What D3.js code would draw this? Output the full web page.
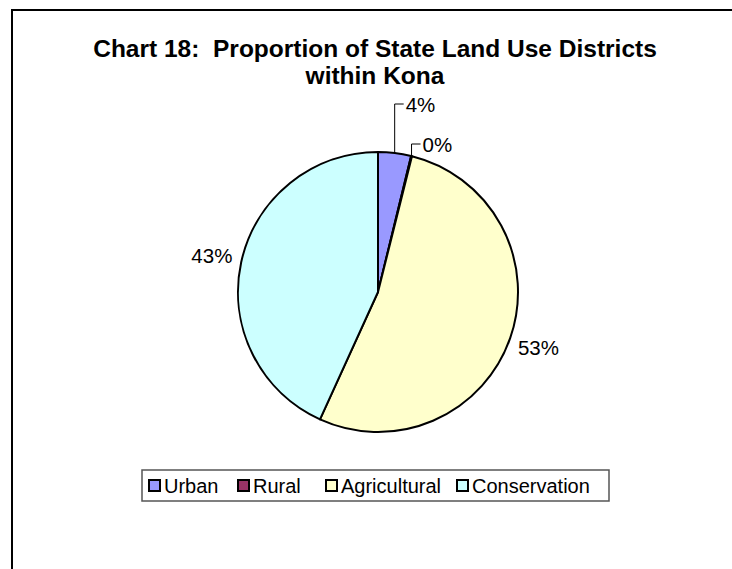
<!DOCTYPE html>
<html><head><meta charset="utf-8">
<script src="https://cdn.jsdelivr.net/npm/d3@7"></script>
<style>html,body{margin:0;padding:0;background:#fff;}svg{display:block;}text{white-space:pre;}</style>
</head><body>
<svg id="c" width="732" height="569"></svg>
<script>
const categories = ["Urban", "Rural", "Agricultural", "Conservation"];
const values = [3.8, 0.1, 52.9, 43.2];
const labels = ["4%", "0%", "53%", "43%"];
const colors = ["#9999FF", "#993366", "#FFFFCC", "#CCFFFF"];
const titleLines = ["Chart 18:  Proportion of State Land Use Districts", "within Kona"];

const svg = d3.select("#c");
const font = "Arial, 'Liberation Sans', sans-serif";

// outer frame (cropped)
svg.append("rect").attr("x", 12).attr("y", 10).attr("width", 800).attr("height", 700)
  .attr("fill", "#fff").attr("stroke", "#000").attr("stroke-width", 2);

// title
svg.append("text").attr("font-family", font).attr("font-weight", "bold").attr("font-size", 24.5)
  .attr("text-anchor", "middle").attr("fill", "#000")
  .selectAll("tspan").data(titleLines).join("tspan")
  .attr("x", 375).attr("y", (d, i) => 57 + i * 27).text(d => d);

const cx = 378, cy = 292, R = 140;
const data = categories.map((c, i) => ({ name: c, value: values[i], label: labels[i], color: colors[i] }));
const pie = d3.pie().value(d => d.value).sort(null);
const arcs = pie(data);
const arc = d3.arc().innerRadius(0).outerRadius(R);
const g = svg.append("g").attr("transform", `translate(${cx},${cy})`);

g.selectAll("path").data(arcs).join("path")
  .attr("d", arc).attr("fill", d => d.data.color)
  .attr("stroke", "#000").attr("stroke-width", 2).attr("stroke-linejoin", "round");

const pt = (a, r) => [Math.sin(a) * r, -Math.cos(a) * r];

// labels
const lg = g.append("g").attr("font-family", font).attr("font-size", 20.5).attr("fill", "#000");
arcs.forEach((d, i) => {
  const mid = (d.startAngle + d.endAngle) / 2;
  if (i < 2) {
    const [ex, ey] = pt(mid, R);
    const topY = i === 0 ? -188 : -148;
    const hx = ex + 9;
    g.append("path").attr("d", `M${ex},${ey}V${topY}H${hx}`)
      .attr("fill", "none").attr("stroke", "#000").attr("stroke-width", 1);
    lg.append("text").attr("x", hx + 2).attr("y", topY + 1).attr("dy", "0.35em")
      .attr("text-anchor", "start").text(d.data.label);
  } else {
    const [lx, ly] = pt(mid, 170);
    lg.append("text").attr("x", lx).attr("y", ly).attr("dy", "0.35em")
      .attr("text-anchor", "middle").text(d.data.label);
  }
});

// legend
const legX = 142, legY = 470, legW = 467, legH = 31;
svg.append("rect").attr("x", legX).attr("y", legY).attr("width", legW).attr("height", legH)
  .attr("fill", "#fff").attr("stroke", "#555").attr("stroke-width", 1.5);
const itemX = [148, 237, 325, 456];
const lgd = svg.append("g");
data.forEach((d, i) => {
  lgd.append("rect").attr("x", itemX[i] + 1).attr("y", 480).attr("width", 11).attr("height", 11)
    .attr("fill", d.color).attr("stroke", "#000").attr("stroke-width", 2);
  lgd.append("text").attr("x", itemX[i] + 16).attr("y", 486).attr("dy", "0.35em")
    .attr("font-family", font).attr("font-size", 20).attr("fill", "#000").text(d.name);
});
</script>
</body></html>
